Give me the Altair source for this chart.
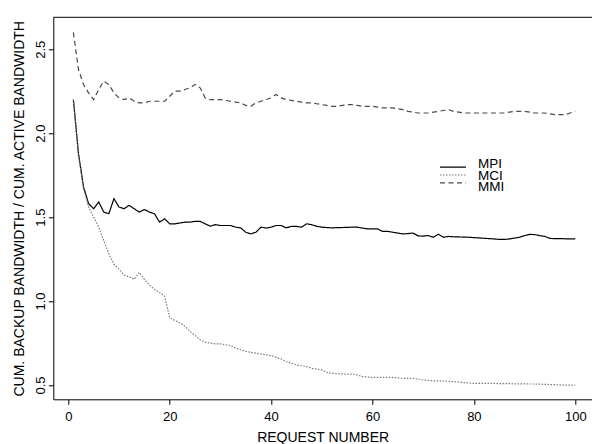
import altair as alt
import pandas as pd

# ---- data ----
request = list(range(1, 101))
series_names = ["MPI", "MCI", "MMI"]

mpi = [2.20, 1.88, 1.68, 1.58, 1.55, 1.59, 1.53, 1.52, 1.61, 1.56,
       1.55, 1.57, 1.55, 1.53, 1.545, 1.53, 1.52, 1.47, 1.49, 1.46,
       1.46, 1.465, 1.47, 1.47, 1.475, 1.475, 1.46, 1.446, 1.455, 1.45,
       1.45, 1.45, 1.44, 1.436, 1.41, 1.40, 1.41, 1.44, 1.435, 1.44,
       1.45, 1.45, 1.436, 1.445, 1.445, 1.44, 1.46, 1.455, 1.445, 1.44,
       1.438, 1.436, 1.437, 1.438, 1.439, 1.44, 1.44, 1.435, 1.43, 1.43,
       1.43, 1.415, 1.415, 1.41, 1.405, 1.40, 1.402, 1.405, 1.388, 1.387,
       1.39, 1.38, 1.398, 1.38, 1.385, 1.383, 1.382, 1.381, 1.38, 1.378,
       1.376, 1.374, 1.372, 1.37, 1.367, 1.367, 1.37, 1.375, 1.38, 1.39,
       1.397, 1.396, 1.39, 1.385, 1.373, 1.372, 1.372, 1.371, 1.37, 1.37]

mci = [2.20, 1.87, 1.67, 1.56, 1.50, 1.44, 1.36, 1.28, 1.22, 1.19,
       1.155, 1.145, 1.13, 1.17, 1.13, 1.095, 1.07, 1.05, 1.03, 0.90,
       0.885, 0.87, 0.85, 0.82, 0.795, 0.77, 0.755, 0.75, 0.745, 0.745,
       0.74, 0.735, 0.72, 0.71, 0.70, 0.695, 0.69, 0.685, 0.68, 0.675,
       0.665, 0.655, 0.64, 0.63, 0.62, 0.615, 0.61, 0.60, 0.595, 0.59,
       0.575, 0.57, 0.568, 0.566, 0.565, 0.565, 0.56, 0.55, 0.548, 0.545,
       0.545, 0.545, 0.545, 0.545, 0.543, 0.54, 0.54, 0.54, 0.535, 0.53,
       0.528, 0.525, 0.525, 0.524, 0.522, 0.52, 0.518, 0.515, 0.512, 0.51,
       0.51, 0.51, 0.51, 0.51, 0.508, 0.508, 0.508, 0.507, 0.507, 0.507,
       0.506, 0.506, 0.505, 0.504, 0.503, 0.502, 0.501, 0.50, 0.50, 0.50]

mmi = [2.60, 2.38, 2.29, 2.24, 2.20, 2.26, 2.31, 2.29, 2.24, 2.21,
       2.20, 2.21, 2.19, 2.18, 2.18, 2.19, 2.19, 2.19, 2.19, 2.22,
       2.25, 2.25, 2.26, 2.27, 2.29, 2.27, 2.21, 2.20, 2.20, 2.20,
       2.195, 2.19, 2.185, 2.18, 2.165, 2.16, 2.18, 2.19, 2.20, 2.21,
       2.23, 2.21, 2.20, 2.195, 2.19, 2.185, 2.18, 2.18, 2.175, 2.17,
       2.165, 2.16, 2.16, 2.165, 2.17, 2.17, 2.165, 2.16, 2.16, 2.16,
       2.155, 2.15, 2.15, 2.15, 2.145, 2.14, 2.13, 2.125, 2.12, 2.12,
       2.12, 2.125, 2.13, 2.135, 2.14, 2.13, 2.125, 2.12, 2.12, 2.12,
       2.12, 2.12, 2.12, 2.12, 2.12, 2.12, 2.125, 2.13, 2.13, 2.13,
       2.125, 2.12, 2.12, 2.12, 2.115, 2.11, 2.11, 2.11, 2.12, 2.13]

x_ticks = [0, 20, 40, 60, 80, 100]
y_ticks = [0.5, 1.0, 1.5, 2.0, 2.5]

rows = []
for name, vals in zip(series_names, [mpi, mci, mmi]):
    for n, v in zip(request, vals):
        rows.append({"request": n, "ratio": v, "series": name})
df = pd.DataFrame(rows)
legend_df = pd.DataFrame({"series": series_names})

W = 538.7
H = 382
FONT = "Liberation Sans"

color_scale = alt.Scale(domain=series_names, range=["#000000", "#7a7a7a", "#4a4a4a"])
dash_scale = alt.Scale(domain=series_names, range=[[1, 0], [1.5, 1.5], [5, 3.5]])

lines = alt.Chart(df).mark_line(strokeWidth=1.2, clip=True).encode(
    x=alt.X("request:Q",
            scale=alt.Scale(domain=[-2.96, 103.3], nice=False, zero=False),
            axis=alt.Axis(values=x_ticks, title="REQUEST NUMBER", grid=False,
                          tickSize=5, labelPadding=6, titleY=42,
                          titleBaseline="alphabetic")),
    y=alt.Y("ratio:Q",
            scale=alt.Scale(domain=[0.415, 2.69], nice=False, zero=False),
            axis=alt.Axis(values=y_ticks, format=".1f",
                          title="CUM. BACKUP BANDWIDTH / CUM. ACTIVE BANDWIDTH",
                          grid=False, tickSize=5, labelAngle=270,
                          labelAlign="center", labelBaseline="bottom",
                          labelPadding=0.5, titleAngle=270, titleX=-30,
                          titleY=H / 2, titleAlign="center",
                          titleBaseline="alphabetic")),
    color=alt.Color("series:N", scale=color_scale, legend=None),
    strokeDash=alt.StrokeDash("series:N", scale=dash_scale, legend=None),
    order=alt.Order("request:Q"),
)

# compact legend (rows closer than Vega's legend allows)
leg_y = alt.Y("series:N", scale=alt.Scale(domain=series_names, range=[146, 169.4],
                                          padding=0), axis=None)
leg_rules = alt.Chart(legend_df).mark_rule(strokeWidth=1.2).encode(
    x=alt.value(386.7), x2=alt.value(412.7), y=leg_y,
    color=alt.Color("series:N", scale=color_scale, legend=None),
    strokeDash=alt.StrokeDash("series:N", scale=dash_scale, legend=None),
)
leg_text = alt.Chart(legend_df).mark_text(
    align="left", baseline="middle", font=FONT, fontSize=13.5, color="black", dy=0.5
).encode(x=alt.value(424.7), y=leg_y, text="series:N")

frame_top = alt.Chart(pd.DataFrame({"k": [0]})).mark_rule(
    color="black", strokeWidth=1
).encode(x=alt.value(0), x2=alt.value(W), y=alt.value(0))

chart = alt.layer(lines, frame_top, leg_rules, leg_text).resolve_scale(
    y="independent"
).properties(
    width=W, height=H,
    autosize=alt.AutoSizeParams(type="none"),
    padding={"left": 53.3, "top": 17.3, "right": 0, "bottom": 44.7},
).configure_view(stroke="transparent").configure_axis(
    domainColor="black", tickColor="black", domainWidth=1, tickWidth=1,
    labelFont=FONT, labelFontSize=13, labelColor="black",
    titleFont=FONT, titleFontSize=14, titleFontWeight="normal", titleColor="black",
)

chart.save("out.html", embed_options={"renderer": "svg", "actions": False})
